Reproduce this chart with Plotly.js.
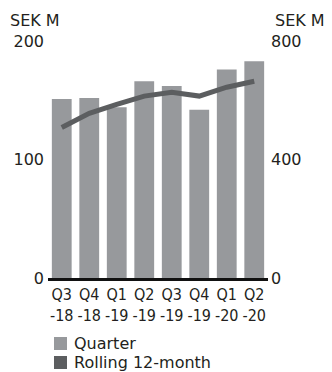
<!DOCTYPE html>
<html>
<head>
<meta charset="utf-8">
<script src="https://cdn.plot.ly/plotly-3.0.1.min.js"></script>
<style>
  html, body { margin: 0; padding: 0; background: #ffffff; }
  #chart { width: 332px; height: 372px; }
</style>
</head>
<body>
<div id="chart"></div>
<script>
// Quarterly values (left axis, SEK M) and rolling 12-month values (right axis, SEK M)
const quarters = ['Q3<br>-18', 'Q4<br>-18', 'Q1<br>-19', 'Q2<br>-19', 'Q3<br>-19', 'Q4<br>-19', 'Q1<br>-20', 'Q2<br>-20'];
const quarterValues = [151, 152, 144, 166, 162, 142, 176, 183];
const rolling12Values = [508, 556, 586, 614, 627, 614, 644, 664];

const leftTicks = [0, 100, 200];
const rightTicks = [0, 400, 800];

const barColor = '#97999c';
const lineColor = '#5c5e60';
const textColor = '#231f20';
const fontFamily = '"DejaVu Sans", sans-serif';
const tickFamily = '"DejaVu Sans Condensed", "DejaVu Sans", sans-serif';

const W = 332, H = 372;
const margin = { l: 48, r: 64, t: 41, b: 94 };
const plotW = W - margin.l - margin.r;
const plotH = H - margin.t - margin.b;
// Convert figure pixels to paper coordinates (paper spans the plot area)
const px = (x) => (x - margin.l) / plotW;
const py = (y) => (H - margin.b - y) / plotH;

const traces = [
  {
    type: 'bar',
    x: quarters,
    y: quarterValues,
    marker: { color: barColor },
    yaxis: 'y',
    showlegend: false,
    hoverinfo: 'skip'
  },
  {
    type: 'scatter',
    mode: 'lines',
    x: quarters,
    y: rolling12Values,
    line: { color: lineColor, width: 5 },
    yaxis: 'y2',
    showlegend: false,
    hoverinfo: 'skip'
  }
];

// Legend drawn as swatches with labels beneath the plot
const legendItems = [
  { label: 'Quarter', color: barColor },
  { label: 'Rolling 12-month', color: lineColor }
];

const shapes = legendItems.map((item, i) => ({
  type: 'rect', xref: 'paper', yref: 'paper',
  x0: px(54), x1: px(67),
  y0: py(350 + i * 19), y1: py(337 + i * 19),
  fillcolor: item.color, line: { width: 0 }
}));

const annotations = legendItems.map((item, i) => ({
  xref: 'paper', yref: 'paper',
  x: px(72), y: py(343.5 + i * 19),
  xanchor: 'left', yanchor: 'middle',
  text: item.label, showarrow: false,
  font: { family: fontFamily, size: 16, color: textColor }
}));

annotations.push(
  {
    xref: 'paper', yref: 'paper', x: px(8), y: py(21),
    xanchor: 'left', yanchor: 'middle', text: 'SEK M', showarrow: false,
    font: { family: fontFamily, size: 16, color: textColor }
  },
  {
    xref: 'paper', yref: 'paper', x: px(273), y: py(21),
    xanchor: 'left', yanchor: 'middle', text: 'SEK M', showarrow: false,
    font: { family: fontFamily, size: 16, color: textColor }
  }
);

const layout = {
  width: W,
  height: H,
  margin: { l: margin.l, r: margin.r, t: margin.t, b: margin.b, pad: 0 },
  paper_bgcolor: '#ffffff',
  plot_bgcolor: '#ffffff',
  font: { family: fontFamily, size: 16, color: textColor },
  bargap: 0.28,
  xaxis: {
    type: 'category',
    range: [-0.5, 7.5],
    showgrid: false,
    zeroline: false,
    showline: true,
    linecolor: '#111111',
    linewidth: 3,
    ticks: '',
    tickangle: 0,
    tickfont: { family: tickFamily, size: 16, color: textColor }
  },
  yaxis: {
    range: [0, 200],
    tickvals: leftTicks,
    ticktext: leftTicks.map(String),
    showgrid: false,
    zeroline: false,
    showline: false,
    ticks: '',
    ticklabelstandoff: 3,
    tickfont: { family: fontFamily, size: 16, color: textColor }
  },
  yaxis2: {
    range: [0, 800],
    overlaying: 'y',
    side: 'right',
    tickvals: rightTicks,
    ticktext: rightTicks.map(String),
    showgrid: false,
    zeroline: false,
    showline: false,
    ticks: '',
    ticklabelstandoff: 2,
    tickfont: { family: fontFamily, size: 16, color: textColor }
  },
  shapes: shapes,
  annotations: annotations
};

Plotly.newPlot('chart', traces, layout, { staticPlot: true, displayModeBar: false });
</script>
</body>
</html>
